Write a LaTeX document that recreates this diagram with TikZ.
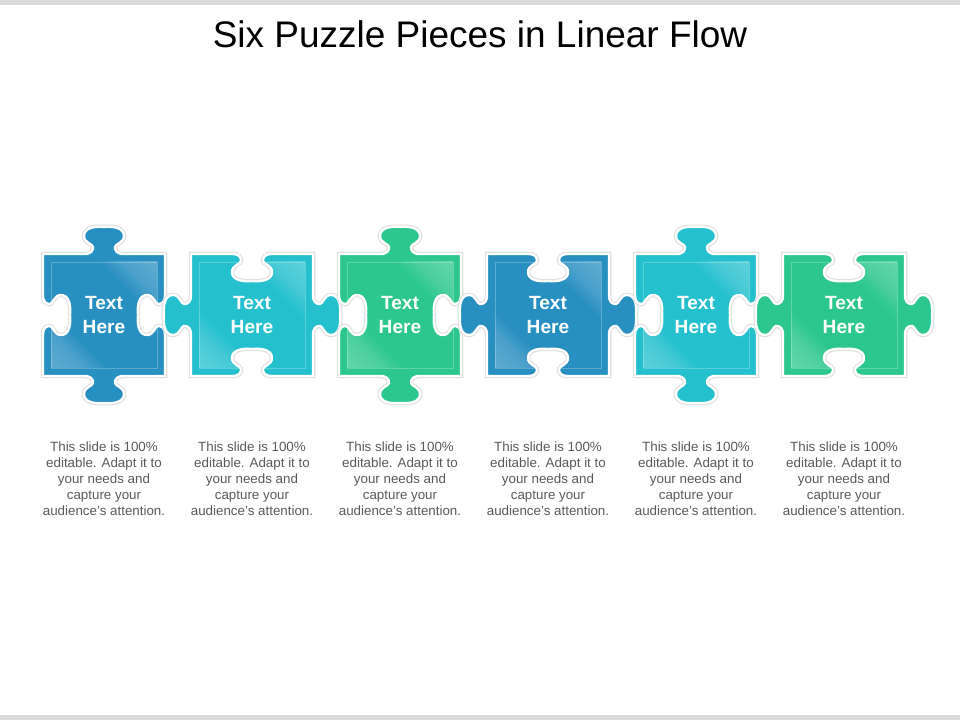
\documentclass[tikz,border=0pt]{standalone}
\usepackage{fontspec}
\setmainfont{Liberation Sans}
\usetikzlibrary{positioning}
\definecolor{pzblue}{RGB}{40,143,193}
\definecolor{pzteal}{RGB}{36,192,206}
\definecolor{pzgreen}{RGB}{44,199,142}
\definecolor{pzgray}{RGB}{89,89,89}
\definecolor{pzbar}{RGB}{217,217,217}
\pgfdeclarehorizontalshading{glspzblue}{100bp}{color(0bp)=(pzblue!62!white); color(26bp)=(pzblue!84!white); color(34bp)=(pzblue); color(66bp)=(pzblue); color(74bp)=(pzblue!84!white); color(100bp)=(pzblue!62!white)}
\pgfdeclarehorizontalshading{glspzteal}{100bp}{color(0bp)=(pzteal!62!white); color(26bp)=(pzteal!84!white); color(34bp)=(pzteal); color(66bp)=(pzteal); color(74bp)=(pzteal!84!white); color(100bp)=(pzteal!62!white)}
\pgfdeclarehorizontalshading{glspzgreen}{100bp}{color(0bp)=(pzgreen!62!white); color(26bp)=(pzgreen!84!white); color(34bp)=(pzgreen); color(66bp)=(pzgreen); color(74bp)=(pzgreen!84!white); color(100bp)=(pzgreen!62!white)}
\tikzset{
  pzglow/.style={draw=black!13, line width=3.2pt},
  pzbody/.style={draw=white, line width=1.7pt},
  pzrim/.style={draw=white, draw opacity=.25, line width=.6pt},
  pztxt/.style={font=\fontsize{13.6}{16.4}\selectfont\bfseries, text=white, align=center},
  pzdesc/.style={font=\fontsize{9.5}{11.4}\selectfont, text=pzgray, align=center},
  pzttl/.style={font=\fontsize{26.3}{30}\selectfont, text=black},
}
% one side of a piece, drawn as the top side: #1 = 1 tab, -1 blank
\newcommand{\pzedge}[1]{%
  -- (-20,-61)
  .. controls (-13,-61) and (-11,{-61-(#1)*3}) .. (-11,{-61-(#1)*7})
  .. controls (-11,{-61-(#1)*10}) and (-20,{-61-(#1)*11}) .. (-20,{-61-(#1)*18})
  .. controls (-20,{-61-(#1)*26}) and (-10,{-61-(#1)*28}) .. (0,{-61-(#1)*27})
  .. controls (10,{-61-(#1)*28}) and (20,{-61-(#1)*26}) .. (20,{-61-(#1)*18})
  .. controls (20,{-61-(#1)*11}) and (11,{-61-(#1)*10}) .. (11,{-61-(#1)*7})
  .. controls (11,{-61-(#1)*3}) and (13,-61) .. (20,-61)
  -- (61,-61)}
% #1 top and bottom, #2 left and right
\newcommand{\pzpath}[2]{(-61,-61) \pzedge{#1} {[rotate=-90] \pzedge{#2}}
  {[rotate=180] \pzedge{#1}} {[rotate=90] \pzedge{#2}} -- cycle}
% #1 name, #2 centre x, #3 colour, #4 top/bottom, #5 left/right
\newcommand{\pzpiece}[5]{%
  \begin{scope}[shift={(#2,315)}]
    \path[pzglow] \pzpath{#4}{#5};
    \fill[#3] \pzpath{#4}{#5};
    \begin{scope}
      \clip \pzpath{#4}{#5};
      \shade[shading=gls#3, shading angle=45] (-53,-53) rectangle (53,53);
      \draw[pzrim] (-53,-53) rectangle (53,53);
    \end{scope}
    \path[pzbody] \pzpath{#4}{#5};
    \node[pztxt] (t#1) at (0,0) {Text\\Here};
    \node[pzdesc] (d#1) at (0,164) {This slide is 100\%\\editable. Adapt it to\\your needs and\\capture your\\audience's attention.};
  \end{scope}}

\begin{document}
\begin{tikzpicture}[x=0.025cm, y=-0.025cm]
  \useasboundingbox (0,0) rectangle (960,720);
  \fill[pzbar] (0,0) rectangle (960,5);
  \fill[pzbar] (0,715) rectangle (960,720);
  \node[pzttl] (ttl) at (480,34) {Six Puzzle Pieces in Linear Flow};
  \pzpiece{1}{104}{pzblue}{1}{-1}
  \pzpiece{2}{252}{pzteal}{-1}{1}
  \pzpiece{3}{400}{pzgreen}{1}{-1}
  \pzpiece{4}{548}{pzblue}{-1}{1}
  \pzpiece{5}{696}{pzteal}{1}{-1}
  \pzpiece{6}{844}{pzgreen}{-1}{1}
\end{tikzpicture}
\end{document}
